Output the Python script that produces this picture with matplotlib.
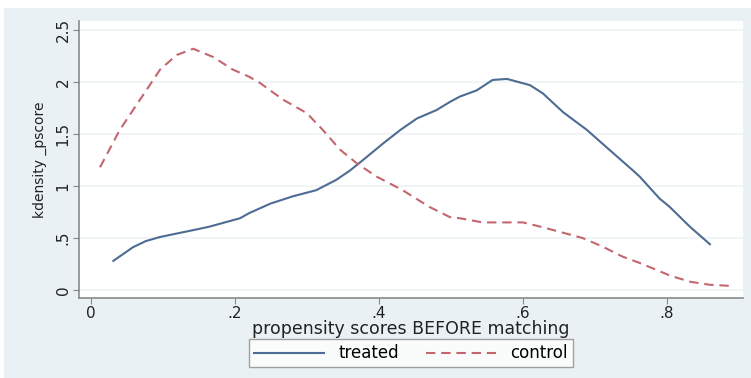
import numpy as np
import matplotlib
matplotlib.use('Agg')
import matplotlib.pyplot as plt
from matplotlib.patches import Rectangle

plt.rcParams['font.family'] = ['DejaVu Sans']

# treated 커널밀도
treated_x = [0.031, 0.058, 0.076, 0.096, 0.124, 0.145, 0.165, 0.186, 0.207, 0.22,
             0.249, 0.28, 0.313, 0.341, 0.36, 0.378, 0.406, 0.43, 0.453, 0.48,
             0.499, 0.5125, 0.536, 0.558, 0.578, 0.61, 0.628, 0.656, 0.689, 0.725,
             0.753, 0.7625, 0.79, 0.804, 0.832, 0.86]
treated_y = [0.28, 0.41, 0.47, 0.51, 0.55, 0.58, 0.61, 0.65, 0.69, 0.74,
             0.83, 0.90, 0.96, 1.06, 1.15, 1.25, 1.41, 1.54, 1.65, 1.73,
             1.81, 1.86, 1.92, 2.02, 2.03, 1.97, 1.89, 1.71, 1.54, 1.32,
             1.15, 1.09, 0.88, 0.80, 0.61, 0.44]

# control 커널밀도
control_x = [0.0125, 0.04, 0.068, 0.096, 0.119, 0.142, 0.17, 0.197, 0.22, 0.235,
             0.267, 0.30, 0.322, 0.346, 0.369, 0.397, 0.433, 0.47, 0.499, 0.5125,
             0.544, 0.578, 0.60, 0.624, 0.651, 0.683, 0.71, 0.739, 0.7625, 0.78,
             0.804, 0.832, 0.86, 0.8875]
control_y = [1.18, 1.54, 1.83, 2.12, 2.26, 2.32, 2.24, 2.12, 2.05, 1.99,
             1.83, 1.70, 1.54, 1.35, 1.22, 1.09, 0.96, 0.80, 0.70, 0.69,
             0.65, 0.65, 0.65, 0.61, 0.56, 0.50, 0.42, 0.32, 0.26, 0.21,
             0.14, 0.08, 0.05, 0.04]

xticks = [0, 0.2, 0.4, 0.6, 0.8]
xtick_labels = ['0', '.2', '.4', '.6', '.8']
yticks = [0, 0.5, 1, 1.5, 2, 2.5]
ytick_labels = ['0', '.5', '1', '1.5', '2', '2.5']

fig = plt.figure(figsize=(7.51, 3.78), dpi=100)
# 바깥 패널 배경
fig.patches.append(Rectangle((4 / 751, 0), 747 / 751, 370 / 378,
                             transform=fig.transFigure, facecolor='#eaf1f4',
                             edgecolor='none', zorder=-10))

ax = fig.add_axes([79 / 751, 80 / 378, 664 / 751, 277 / 378])
ax.set_facecolor('white')

for yv in yticks:
    ax.axhline(yv, color='#eef3f6', lw=1.2, zorder=1)

ax.plot(treated_x, treated_y, color='#4d6c93', lw=1.5, label='treated', zorder=3)
ax.plot(control_x, control_y, color='#c4666e', lw=1.5, ls=(0, (4.5, 2.8)),
        label='control', zorder=3)

ax.set_xlim(-0.0167, 0.906)
ax.set_ylim(-0.077, 2.587)
ax.set_xticks(xticks)
ax.set_xticklabels(xtick_labels)
ax.set_yticks(yticks)
ax.set_yticklabels(ytick_labels, rotation=90, va='center')

for s in ['top', 'right']:
    ax.spines[s].set_visible(False)
for s in ['left', 'bottom']:
    ax.spines[s].set_color('#8a8a8a')
    ax.spines[s].set_linewidth(1.2)
ax.tick_params(direction='out', length=4, color='#8a8a8a', labelsize=11,
               labelcolor='#222222', pad=2)

ax.set_xlabel('propensity scores BEFORE matching', fontsize=12.5, color='#222222',
              labelpad=-1)
ax.set_ylabel('kdensity _pscore', fontsize=10, color='#222222', labelpad=6)

leg = ax.legend(loc='center', bbox_to_anchor=(0.5, -0.2), ncol=2, fontsize=12,
                frameon=True, fancybox=False, handlelength=4.2, columnspacing=1.6,
                borderpad=0.3, handletextpad=0.85)
leg.get_frame().set_edgecolor('#8a8a8a')
leg.get_frame().set_linewidth(1.0)

fig.savefig('out.png', dpi=100)
